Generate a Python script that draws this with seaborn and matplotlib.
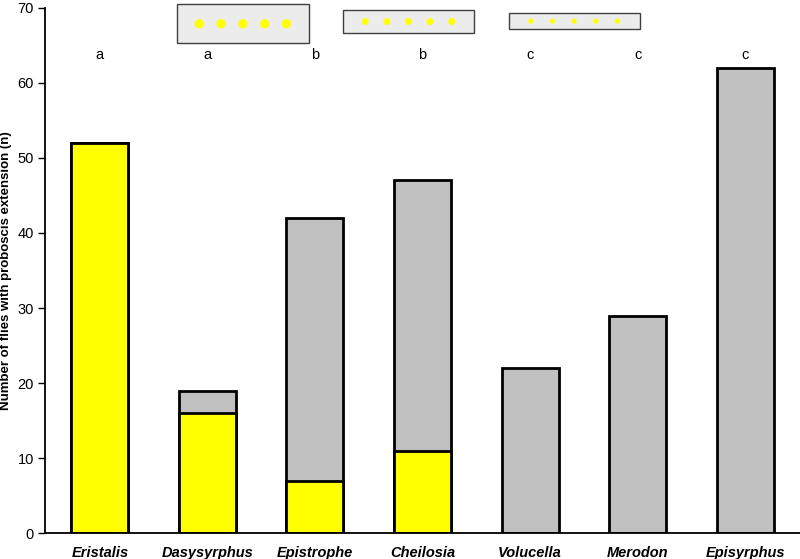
import matplotlib
matplotlib.use("Agg")
import matplotlib.pyplot as plt
import seaborn as sns
import pandas as pd
import numpy as np
from matplotlib.patches import Rectangle

# data
genera = ["Eristalis", "Dasysyrphus", "Epistrophe", "Cheilosia",
          "Volucella", "Merodon", "Episyrphus"]
total_flies = [52, 19, 42, 47, 22, 29, 62]
yellow_flies = [52, 16, 7, 11, 0, 0, 0]
group_letters = ["a", "a", "b", "b", "c", "c", "c"]

sns.set_theme(style="ticks")
plt.rcParams["font.family"] = ["Liberation Sans", "DejaVu Sans"]
plt.rcParams.update({"text.color": "black", "axes.labelcolor": "black",
                     "xtick.color": "black", "ytick.color": "black"})

df = pd.DataFrame({"genus": genera, "total": total_flies,
                   "yellow": yellow_flies})
df["yellow"] = df["yellow"].replace(0, np.nan)

fig = plt.figure(figsize=(8, 5.59), dpi=100)
ax = fig.add_axes([0.05625, 0.0465, 0.94375, 0.9392])

sns.barplot(data=df, x="genus", y="total", order=genera, color="#c0c0c0",
            saturation=1, width=0.53, edgecolor="black", linewidth=2, ax=ax)
sns.barplot(data=df, x="genus", y="yellow", order=genera, color="#ffff00",
            saturation=1, width=0.53, edgecolor="black", linewidth=2, ax=ax)

ax.set_xlim(-0.51, 6.51)
ax.set_ylim(0, 70)
ax.set_yticks(range(0, 71, 10))
ax.set_xlabel("")
ax.set_ylabel("Number of flies with proboscis extension (n)", fontsize=9.5,
              fontweight="bold", labelpad=4)
ax.tick_params(axis="y", labelsize=10.5, length=5, width=1, pad=3)
ax.tick_params(axis="x", length=0, pad=9)
for lab in ax.get_xticklabels():
    lab.set_fontsize(10.5)
    lab.set_fontweight("bold")
    lab.set_fontstyle("italic")
sns.despine(ax=ax)
for s in ["left", "bottom"]:
    ax.spines[s].set_linewidth(1.3)
    ax.spines[s].set_color("black")

# significance letters above the bars
for i, letter in enumerate(group_letters):
    ax.text(i, 63.7, letter, ha="center", va="center", fontsize=10.5)

# flower-stimulus sketches: grey boxes with yellow dots
boxes = [(0.716, 65.3, 1.228, 5.2, 45),
         (2.26, 66.7, 1.22, 3.0, 25),
         (3.80, 67.2, 1.22, 2.1, 14)]
for x0, y0, w, h, dot in boxes:
    ax.add_patch(Rectangle((x0, y0), w, h, facecolor="#ececec",
                           edgecolor="#404040", linewidth=1, clip_on=False,
                           zorder=5))
    xs = np.linspace(x0 + 0.17 * w, x0 + 0.83 * w, 5)
    ax.scatter(xs, [y0 + h / 2] * 5, s=dot, color="#ffff00", edgecolor="none",
               clip_on=False, zorder=6)

fig.savefig("out.png", dpi=100)
